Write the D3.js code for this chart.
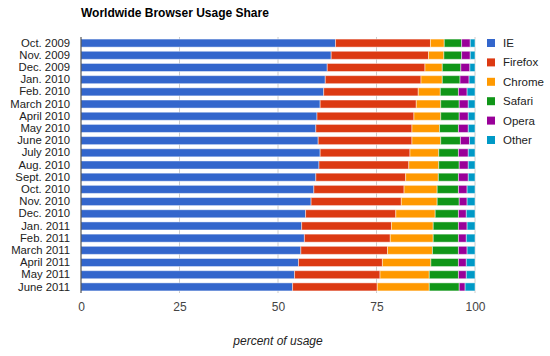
<!DOCTYPE html>
<html><head><meta charset="utf-8">
<script src="https://cdn.jsdelivr.net/npm/d3@7"></script>
<style>body{margin:0;background:#fff}svg{font-family:Arial,"Liberation Sans",sans-serif}</style>
</head><body><svg id="c" width="550" height="356"></svg>
<script>
const months = ["Oct. 2009","Nov. 2009","Dec. 2009","Jan. 2010","Feb. 2010","March 2010","April 2010","May 2010","June 2010","July 2010","Aug. 2010","Sept. 2010","Oct. 2010","Nov. 2010","Dec. 2010","Jan. 2011","Feb. 2011","March 2011","April 2011","May 2011","June 2011"];
const browsers = ["IE","Firefox","Chrome","Safari","Opera","Other"];
const ie      = [64.6,63.5,62.5,62.0,61.6,60.7,59.9,59.6,60.2,60.7,60.4,59.6,59.1,58.4,57.0,56.0,56.7,55.8,55.2,54.2,53.7];
const firefox = [24.1,24.7,24.8,24.3,24.0,24.4,24.6,24.4,23.8,22.8,22.8,22.8,22.9,22.9,22.9,22.8,21.8,22.0,21.3,21.7,21.5];
const chrome  = [3.5,3.9,4.4,5.4,5.6,6.2,6.8,7.0,7.3,7.3,7.6,8.3,8.4,9.1,10.0,10.6,10.9,11.4,12.3,12.5,13.2];
const safari  = [4.4,4.5,4.7,4.5,4.6,4.7,4.7,4.8,5.0,5.0,5.2,5.1,5.4,5.6,5.9,6.4,6.4,6.6,7.0,7.4,7.6];
const opera   = [2.2,2.2,2.3,2.3,2.2,2.3,2.3,2.5,2.3,2.5,2.3,2.5,2.2,2.0,2.0,2.2,2.0,2.2,2.0,2.0,1.5];
const other   = [1.2,1.2,1.3,1.5,2.0,1.7,1.7,1.7,1.4,1.7,1.7,1.7,2.0,2.0,2.2,2.0,2.2,2.0,2.2,2.2,2.5];
const xTicks  = [0,25,50,75,100];
const colors  = ["#3366cc","#dc3912","#ff9900","#109618","#990099","#0099c6"];

const series = [ie,firefox,chrome,safari,opera,other];
const rows = months.map((m,i)=>{const o={month:m}; browsers.forEach((b,j)=>o[b]=series[j][i]); return o;});
const stack = d3.stack().keys(browsers)(rows);

const svg = d3.select("#c");
const x = d3.scaleLinear().domain([0,100]).range([81,475]);
const y = d3.scaleBand().domain(months).range([37,293]).paddingInner(0.34).paddingOuter(0.17);
const color = d3.scaleOrdinal().domain(browsers).range(colors);

svg.append("text").attr("x",81).attr("y",17).attr("font-size",12).attr("font-weight","bold").attr("fill","#000").text("Worldwide Browser Usage Share");

// gridlines
svg.append("g").selectAll("line").data(xTicks.filter(d=>d>0)).join("line")
  .attr("x1",d=>x(d)).attr("x2",d=>x(d)).attr("y1",37).attr("y2",293)
  .attr("stroke","#cccccc").attr("stroke-width",1);

// bars
svg.append("g").selectAll("g").data(stack).join("g").attr("fill",d=>color(d.key))
  .selectAll("rect").data(d=>d).join("rect")
  .attr("x",d=>x(d[0])).attr("width",d=>x(d[1])-x(d[0]))
  .attr("y",d=>y(d.data.month)).attr("height",y.bandwidth())
  .attr("stroke","#fff").attr("stroke-opacity",0.45).attr("stroke-width",1);

// baseline
svg.append("line").attr("x1",x(0)).attr("x2",x(0)).attr("y1",37).attr("y2",293).attr("stroke","#333").attr("stroke-width",1);

// y axis labels
const yAxis = svg.append("g").attr("transform","translate(81,0)").call(d3.axisLeft(y).tickSize(0).tickPadding(11));
yAxis.select(".domain").remove();
yAxis.selectAll("text").attr("font-size",11.3).attr("fill","#222").attr("font-family","Arial, 'Liberation Sans', sans-serif");

// x axis labels
const xAxis = svg.append("g").attr("transform","translate(0,299)").call(d3.axisBottom(x).tickValues(xTicks).tickSize(0).tickPadding(3));
xAxis.select(".domain").remove();
xAxis.selectAll("text").attr("font-size",12).attr("fill","#444").attr("font-family","Arial, 'Liberation Sans', sans-serif");

svg.append("text").attr("x",278).attr("y",345).attr("text-anchor","middle").attr("font-size",12).attr("font-style","italic").attr("fill","#222").text("percent of usage");

// legend
const lg = svg.append("g").selectAll("g").data(browsers).join("g").attr("transform",(d,i)=>`translate(487,${39+i*19.4})`);
lg.append("rect").attr("width",8).attr("height",8).attr("fill",d=>color(d));
lg.append("text").attr("x",16).attr("y",8).attr("font-size",11.5).attr("fill","#222").text(d=>d);
</script></body></html>
